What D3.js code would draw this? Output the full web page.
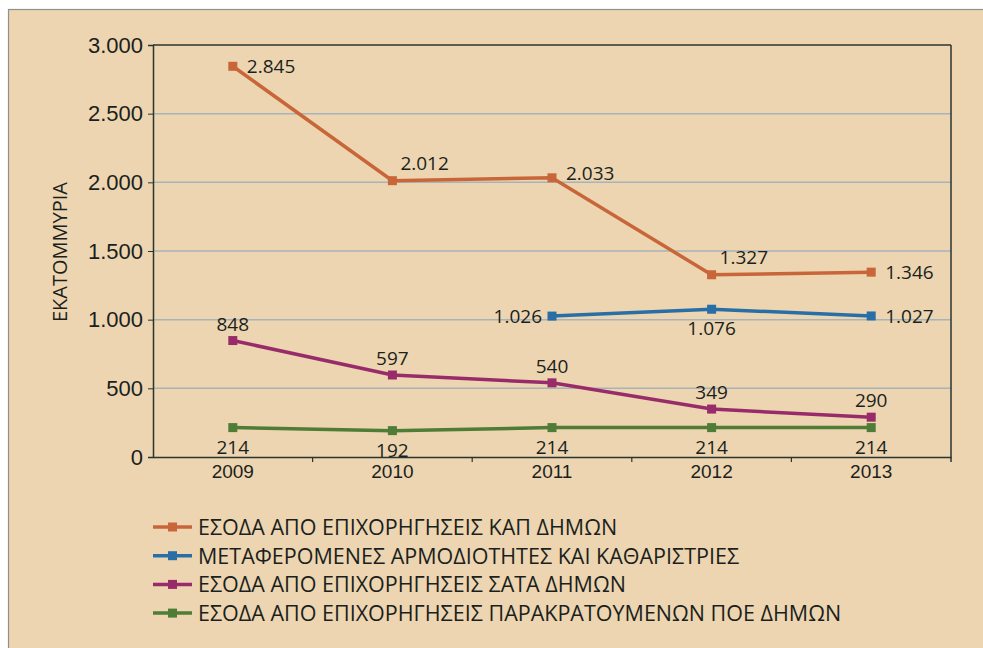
<!DOCTYPE html>
<html>
<head>
<meta charset="utf-8">
<script src="https://cdn.jsdelivr.net/npm/d3@7"></script>
<style>
  body { margin: 0; background: #fff; }
  svg { display: block; font-family: "Open Sans", "Noto Sans", sans-serif; }
</style>
</head>
<body>
<svg width="983" height="648"></svg>
<script>
// data
var years = ["2009", "2010", "2011", "2012", "2013"];
var kap   = [2845, 2012, 2033, 1327, 1346];
var metaf = [null, null, 1026, 1076, 1027];
var sata  = [848, 597, 540, 349, 290];
var poe   = [214, 192, 214, 214, 214];
var yTicks = [0, 500, 1000, 1500, 2000, 2500, 3000];
var seriesNames = [
  "ΕΣΟΔΑ ΑΠΟ ΕΠΙΧΟΡΗΓΗΣΕΙΣ ΚΑΠ ΔΗΜΩΝ",
  "ΜΕΤΑΦΕΡΟΜΕΝΕΣ ΑΡΜΟΔΙΟΤΗΤΕΣ ΚΑΙ ΚΑΘΑΡΙΣΤΡΙΕΣ",
  "ΕΣΟΔΑ ΑΠΟ ΕΠΙΧΟΡΗΓΗΣΕΙΣ ΣΑΤΑ ΔΗΜΩΝ",
  "ΕΣΟΔΑ ΑΠΟ ΕΠΙΧΟΡΗΓΗΣΕΙΣ ΠΑΡΑΚΡΑΤΟΥΜΕΝΩΝ ΠΟΕ ΔΗΜΩΝ"
];
var seriesColors = ["#c8663a", "#2a6ea8", "#982c6a", "#4f7c37"];
// where each value label sits relative to its point
var labelPlace = [
  ["right", "aboveRight", "rightUp", "aboveRight", "right"],
  [null, null, "left", "below", "right"],
  ["above", "above", "above", "above", "above"],
  ["below", "below", "below", "below", "below"]
];

var allSeries = [kap, metaf, sata, poe];

var svg = d3.select("svg"),
    width = +svg.attr("width"),
    height = +svg.attr("height");

var gr = d3.formatLocale({decimal: ",", thousands: ".", grouping: [3], currency: ["", "€"]});
var fmt = gr.format(",d");
var ink = "#1b1f1d";

// background panel
svg.append("rect").attr("x", 0).attr("y", 0).attr("width", width).attr("height", height).attr("fill", "#fff");
svg.append("rect")
  .attr("x", 8.5).attr("y", 9.5).attr("width", width).attr("height", height)
  .attr("fill", "#ecd5b0").attr("stroke", "#8f8f8f").attr("stroke-width", 1.2);

var margin = {left: 153, right: 951, top: 45, bottom: 457};

var x = d3.scaleBand().domain(years).range([margin.left, margin.right]);
var y = d3.scaleLinear().domain([0, 3000]).range([margin.bottom, margin.top]);
var cx = function (i) { return x(years[i]) + x.bandwidth() / 2; };

// gridlines
svg.append("g")
  .selectAll("line")
  .data(yTicks.filter(function (d) { return d > 0 && d < 3000; }))
  .enter().append("line")
  .attr("x1", margin.left).attr("x2", margin.right)
  .attr("y1", function (d) { return y(d); }).attr("y2", function (d) { return y(d); })
  .attr("stroke", "#a7b3b8").attr("stroke-width", 1.5);

// frame top / right
svg.append("line").attr("x1", margin.left).attr("x2", margin.right)
  .attr("y1", margin.top).attr("y2", margin.top).attr("stroke", "#2b3530").attr("stroke-width", 1.5);
svg.append("line").attr("x1", margin.right).attr("x2", margin.right)
  .attr("y1", margin.top).attr("y2", margin.bottom + 5).attr("stroke", "#2b3530").attr("stroke-width", 1.5);

// y axis
var yAxis = svg.append("g")
  .attr("transform", "translate(" + margin.left + ",0)")
  .call(d3.axisLeft(y).tickValues(yTicks).tickFormat(function (d) { return d === 0 ? "0" : fmt(d); })
        .tickSize(5).tickPadding(5));
yAxis.select(".domain").attr("stroke", "#2b3530").attr("stroke-width", 1.5);
yAxis.selectAll(".tick line").attr("stroke", "#2b3530");
yAxis.selectAll("text").attr("font-size", 22).attr("fill", ink);

// x axis
var xAxis = svg.append("g")
  .attr("transform", "translate(0," + margin.bottom + ")")
  .call(d3.axisBottom(x).tickSize(0).tickPadding(8));
xAxis.select(".domain").attr("stroke", "#2b3530").attr("stroke-width", 1.5);
xAxis.selectAll("text").attr("font-size", 19).attr("fill", ink);
// ticks on category boundaries
xAxis.selectAll(".bound")
  .data(years.slice(1))
  .enter().append("line")
  .attr("class", "bound")
  .attr("x1", function (d) { return x(d); }).attr("x2", function (d) { return x(d); })
  .attr("y1", 0).attr("y2", 5)
  .attr("stroke", "#2b3530").attr("stroke-width", 1.2);

// y title
svg.append("text")
  .attr("transform", "translate(67,252) rotate(-90)")
  .attr("text-anchor", "middle")
  .attr("font-size", 20)
  .attr("fill", ink)
  .text("ΕΚΑΤΟΜΜΥΡΙΑ");

// lines
var line = d3.line()
  .defined(function (d) { return d != null; })
  .x(function (d, i) { return cx(i); })
  .y(function (d) { return y(d); });

allSeries.forEach(function (s, k) {
  var g = svg.append("g");
  g.append("path")
    .datum(s)
    .attr("d", line)
    .attr("fill", "none")
    .attr("stroke", seriesColors[k])
    .attr("stroke-width", 3.5);

  var pts = s.map(function (v, i) { return {v: v, i: i}; }).filter(function (d) { return d.v != null; });

  g.selectAll("rect")
    .data(pts)
    .enter().append("rect")
    .attr("x", function (d) { return cx(d.i) - 4.5; })
    .attr("y", function (d) { return y(d.v) - 4.5; })
    .attr("width", 9).attr("height", 9)
    .attr("fill", seriesColors[k]);

  g.selectAll("text")
    .data(pts)
    .enter().append("text")
    .attr("font-size", 19)
    .attr("fill", ink)
    .attr("x", function (d) {
      var p = labelPlace[k][d.i];
      if (p === "right" || p === "rightUp") return cx(d.i) + 14;
      if (p === "left") return cx(d.i) - 10;
      if (p === "aboveRight") return cx(d.i) + 8;
      return cx(d.i);
    })
    .attr("y", function (d) {
      var p = labelPlace[k][d.i];
      if (p === "above") return y(d.v) - 10;
      if (p === "aboveRight") return y(d.v) - 11;
      if (p === "rightUp") return y(d.v) + 2;
      if (p === "below") return y(d.v) + 26;
      return y(d.v) + 7;
    })
    .attr("text-anchor", function (d) {
      var p = labelPlace[k][d.i];
      if (p === "right" || p === "aboveRight" || p === "rightUp") return "start";
      if (p === "left") return "end";
      return "middle";
    })
    .text(function (d) { return fmt(d.v); });
});

// legend
var legend = svg.append("g").attr("transform", "translate(153,527)");
var item = legend.selectAll("g")
  .data(seriesNames)
  .enter().append("g")
  .attr("transform", function (d, i) { return "translate(0," + (i * 28.7) + ")"; });
item.append("line")
  .attr("x1", 0).attr("x2", 39).attr("y1", 0).attr("y2", 0)
  .attr("stroke", function (d, i) { return seriesColors[i]; })
  .attr("stroke-width", 3.5);
item.append("rect")
  .attr("x", 15).attr("y", -4.5).attr("width", 9).attr("height", 9)
  .attr("fill", function (d, i) { return seriesColors[i]; });
item.append("text")
  .attr("x", 45).attr("y", 8)
  .attr("font-size", 21.5)
  .attr("fill", ink)
  .text(function (d) { return d; });
</script>
</body>
</html>
